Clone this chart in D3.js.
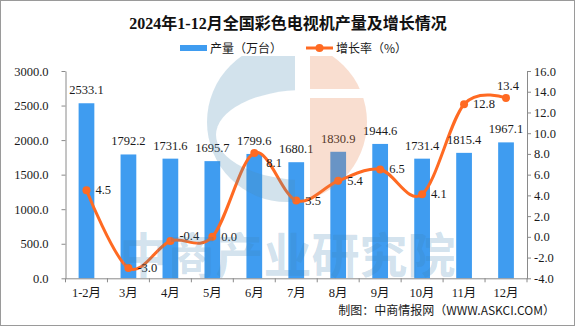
<!DOCTYPE html>
<html>
<head>
<meta charset="utf-8">
<script src="https://cdn.jsdelivr.net/npm/d3@7"></script>
<style>
  html, body { margin: 0; padding: 0; background: #fff; }
  svg { display: block; }
</style>
</head>
<body>
<svg id="chart" width="575" height="326"></svg>
<script>
// Monthly colour-TV output (10k units) and year-on-year growth (%)
const months = ["1-2月", "3月", "4月", "5月", "6月", "7月", "8月", "9月", "10月", "11月", "12月"];
const output = [2533.1, 1792.2, 1731.6, 1695.7, 1799.6, 1680.1, 1830.9, 1944.6, 1731.4, 1815.4, 1967.1];
const growth = [4.5, -3.0, -0.4, 0.0, 8.1, 3.5, 5.4, 6.5, 4.1, 12.8, 13.4];
const outputTicks = [0, 500, 1000, 1500, 2000, 2500, 3000];
const growthTicks = [-4, -2, 0, 2, 4, 6, 8, 10, 12, 14, 16];
const titleText = "2024年1-12月全国彩色电视机产量及增长情况";
const legendLabels = ["产量（万台）", "增长率（%）"];
const sourceText = "制图：中商情报网（WWW.ASKCI.COM）";
const watermarkText = "中商产业研究院";

const W = 575, H = 326;
const BAR = "#3f9cf0", LINE = "#ff6a22", AXIS = "#8a8a8a", TXT = "#1a1a1a";
const numFont = "'Liberation Serif', 'Noto Sans CJK SC', serif";
const cjkFont = "'Noto Sans CJK SC', 'Liberation Serif', sans-serif";

const svg = d3.select("#chart");
const defs = svg.append("defs");

svg.append("rect").attr("x", 0.5).attr("y", 0.5).attr("width", W - 1).attr("height", H - 1)
  .attr("fill", "#fff").attr("stroke", "#9a9a9a");

// Scales
const plotL = 65.5, plotR = 527, plotB = 278.3, plotT = 71;
const x = d3.scaleBand().domain(months).range([plotL, plotR]).paddingInner(0.625).paddingOuter(0.3125);
const yL = d3.scaleLinear().domain([0, 3000]).range([plotB, plotT]);
const yR = d3.scaleLinear().domain([-4, 16]).range([plotB, plotT]);
const cx = m => x(m) + x.bandwidth() / 2;

// Title
svg.append("text").attr("x", 288).attr("y", 29).attr("text-anchor", "middle")
  .attr("font-family", numFont).attr("font-weight", "bold").attr("font-size", 16)
  .attr("fill", "#111").text(titleText);

// Legend
const lg = svg.append("g").attr("font-family", cjkFont).attr("font-size", 12).attr("fill", TXT);
lg.append("rect").attr("x", 180).attr("y", 45).attr("width", 27).attr("height", 6).attr("fill", BAR);
lg.append("text").attr("x", 210).attr("y", 52.5).text(legendLabels[0]);
lg.append("line").attr("x1", 306).attr("x2", 333).attr("y1", 48).attr("y2", 48)
  .attr("stroke", LINE).attr("stroke-width", 3);
lg.append("circle").attr("cx", 319.5).attr("cy", 48).attr("r", 4).attr("fill", LINE);
lg.append("text").attr("x", 336).attr("y", 52.5).text(legendLabels[1]);

// Bars
svg.append("g").selectAll("rect").data(months).join("rect")
  .attr("x", m => x(m)).attr("width", x.bandwidth())
  .attr("y", (m, i) => yL(output[i])).attr("height", (m, i) => yL(0) - yL(output[i]))
  .attr("fill", BAR);

// Axes
function styleAxis(g) {
  g.attr("font-family", numFont).attr("font-size", 12.5);
  g.selectAll("path.domain, line").attr("stroke", AXIS);
  g.selectAll("text").attr("fill", TXT);
}
svg.append("g").attr("transform", `translate(${plotL},0)`)
  .call(d3.axisLeft(yL).tickValues(outputTicks).tickFormat(d => d.toFixed(1)).tickSize(4).tickSizeOuter(0).tickPadding(13))
  .call(styleAxis);
svg.append("g").attr("transform", `translate(${plotR},0)`)
  .call(d3.axisRight(yR).tickValues(growthTicks).tickFormat(d => d.toFixed(1)).tickSize(4).tickSizeOuter(0).tickPadding(3))
  .call(styleAxis);
const xg = svg.append("g").attr("transform", `translate(0,${plotB})`)
  .call(d3.axisBottom(x).tickSize(0).tickSizeOuter(0))
  .call(styleAxis);
xg.selectAll("text").attr("y", 19).attr("dy", null);
xg.selectAll("line.boundary").data(d3.range(months.length + 1)).join("line")
  .attr("class", "boundary")
  .attr("x1", i => plotL + i * x.step()).attr("x2", i => plotL + i * x.step())
  .attr("y1", 0).attr("y2", 4).attr("stroke", AXIS);

// Growth line
const line = d3.line().x((d, i) => cx(months[i])).y(d => yR(d)).curve(d3.curveCardinal.tension(0));
svg.append("path").datum(growth).attr("d", line)
  .attr("fill", "none").attr("stroke", LINE).attr("stroke-width", 3).attr("stroke-linejoin", "round");
svg.append("g").selectAll("circle").data(growth).join("circle")
  .attr("cx", (d, i) => cx(months[i])).attr("cy", d => yR(d)).attr("r", 4).attr("fill", LINE);

// Value labels
const labels = svg.append("g").attr("font-family", numFont).attr("font-size", 12.5).attr("fill", TXT);
labels.selectAll("text.bar").data(output).join("text").attr("class", "bar")
  .attr("x", (d, i) => cx(months[i])).attr("y", d => yL(d) - 9)
  .attr("text-anchor", "middle").text(d => d.toFixed(1));

// growth labels sit right of their point; a few are nudged to clear the line
const nudge = { "4月": [9, -5, "start"], "6月": [12, 10, "start"], "12月": [2, -12, "middle"] };
labels.selectAll("text.rate").data(growth).join("text").attr("class", "rate")
  .attr("x", (d, i) => cx(months[i]) + (nudge[months[i]] ? nudge[months[i]][0] : 9))
  .attr("y", (d, i) => yR(d) + 4 + (nudge[months[i]] ? nudge[months[i]][1] : 0))
  .attr("text-anchor", (d, i) => nudge[months[i]] ? nudge[months[i]][2] : "start")
  .text(d => d.toFixed(1));

// Source note
svg.append("text").attr("x", 555).attr("y", 314.5).attr("text-anchor", "end")
  .attr("font-family", cjkFont).attr("font-size", 12).attr("fill", TXT).text(sourceText);

// Translucent logo watermark over the plot area
defs.append("clipPath").attr("id", "wmClip")
  .append("rect").attr("x", 0).attr("y", 56).attr("width", W).attr("height", H - 56);
const mBlue = defs.append("mask").attr("id", "wmBlue");
mBlue.append("rect").attr("x", 0).attr("y", 0).attr("width", 295).attr("height", H).attr("fill", "#fff");
mBlue.append("ellipse").attr("cx", 305).attr("cy", 135).attr("rx", 89).attr("ry", 45).attr("fill", "#000");
const mOrange = defs.append("mask").attr("id", "wmOrange");
mOrange.append("rect").attr("x", 310).attr("y", 0).attr("width", W - 310).attr("height", H).attr("fill", "#fff");
mOrange.append("rect").attr("x", 310).attr("y", 89).attr("width", W - 310).attr("height", 9).attr("fill", "#000");

const wm = svg.append("g").attr("clip-path", "url(#wmClip)").attr("pointer-events", "none");
wm.append("circle").attr("cx", 287).attr("cy", 122).attr("r", 80)
  .attr("fill", "rgb(75,139,179)").attr("fill-opacity", 0.25).attr("mask", "url(#wmBlue)");
wm.append("circle").attr("cx", 287).attr("cy", 122).attr("r", 80)
  .attr("fill", "rgb(231,123,67)").attr("fill-opacity", 0.25).attr("mask", "url(#wmOrange)");
wm.append("text").attr("x", 287.5).attr("y", 273).attr("text-anchor", "middle")
  .attr("font-family", cjkFont).attr("font-weight", "bold").attr("font-size", 48)
  .attr("fill", "rgb(60,130,180)").attr("fill-opacity", 0.24).text(watermarkText);
</script>
</body>
</html>
